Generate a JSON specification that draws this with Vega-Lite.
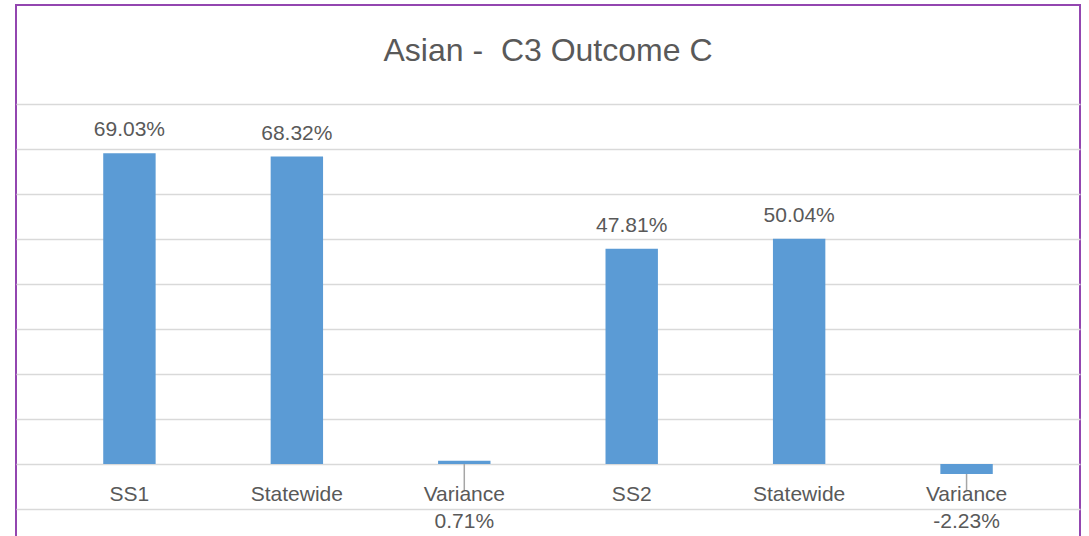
{
  "$schema": "https://vega.github.io/schema/vega-lite/v6.json",
  "width": 1064,
  "height": 536,
  "autosize": {"type": "none"},
  "padding": {"left": 16, "top": 5, "right": 9, "bottom": 0},
  "background": "white",
  "title": {
    "text": "Asian - \u00a0C3 Outcome C",
    "fontSize": 32,
    "font": "Liberation Sans",
    "fontWeight": "normal",
    "color": "#595959",
    "anchor": "middle",
    "offset": -78,
    "baseline": "middle"
  },
  "config": {
    "locale": {
      "number": {"decimal": ".", "thousands": ",", "grouping": [3], "currency": ["$", ""], "minus": "-"}
    },
    "view": {"stroke": "#9346b0", "strokeWidth": 2},
    "text": {"font": "Liberation Sans", "fontSize": 21, "fill": "#595959"}
  },
  "data": {
    "values": [
      {"pos": 1, "category": "SS1", "value": 0.6903},
      {"pos": 2, "category": "Statewide", "value": 0.6832},
      {"pos": 3, "category": "Variance", "value": 0.0071},
      {"pos": 4, "category": "SS2", "value": 0.4781},
      {"pos": 5, "category": "Statewide", "value": 0.5004},
      {"pos": 6, "category": "Variance", "value": -0.0223}
    ]
  },
  "encoding": {
    "x": {
      "field": "pos",
      "type": "ordinal",
      "axis": null,
      "scale": {"paddingInner": 0.687, "paddingOuter": 0.521}
    }
  },
  "layer": [
    {
      "transform": [{"filter": "datum.category === 'Variance'"}],
      "mark": {"type": "rule", "color": "#a6a6a6", "strokeWidth": 1.5},
      "encoding": {
        "y": {"datum": 0, "type": "quantitative"},
        "y2": {"datum": -0.058}
      }
    },
    {
      "mark": {"type": "bar", "color": "#5b9bd5"},
      "encoding": {
        "y": {
          "field": "value",
          "type": "quantitative",
          "scale": {"domain": [-0.1711, 1.02], "nice": false, "zero": false},
          "axis": {
            "values": [-0.1, 0, 0.1, 0.2, 0.3, 0.4, 0.5, 0.6, 0.7, 0.8],
            "labels": false,
            "ticks": false,
            "domain": false,
            "title": null,
            "grid": true,
            "gridColor": "#d9d9d9",
            "gridWidth": 1.5
          }
        }
      }
    },
    {
      "transform": [{"filter": "datum.category !== 'Variance'"}],
      "mark": {"type": "text", "baseline": "alphabetic", "dy": -17},
      "encoding": {
        "y": {"field": "value", "type": "quantitative"},
        "text": {"field": "value", "type": "quantitative", "format": ".2%"}
      }
    },
    {
      "transform": [{"filter": "datum.category === 'Variance'"}],
      "mark": {"type": "text", "baseline": "middle"},
      "encoding": {
        "y": {"datum": -0.129, "type": "quantitative"},
        "text": {"field": "value", "type": "quantitative", "format": ".2%"}
      }
    },
    {
      "mark": {"type": "text", "baseline": "middle"},
      "encoding": {
        "y": {"datum": -0.069, "type": "quantitative"},
        "text": {"field": "category", "type": "nominal"}
      }
    }
  ]
}
